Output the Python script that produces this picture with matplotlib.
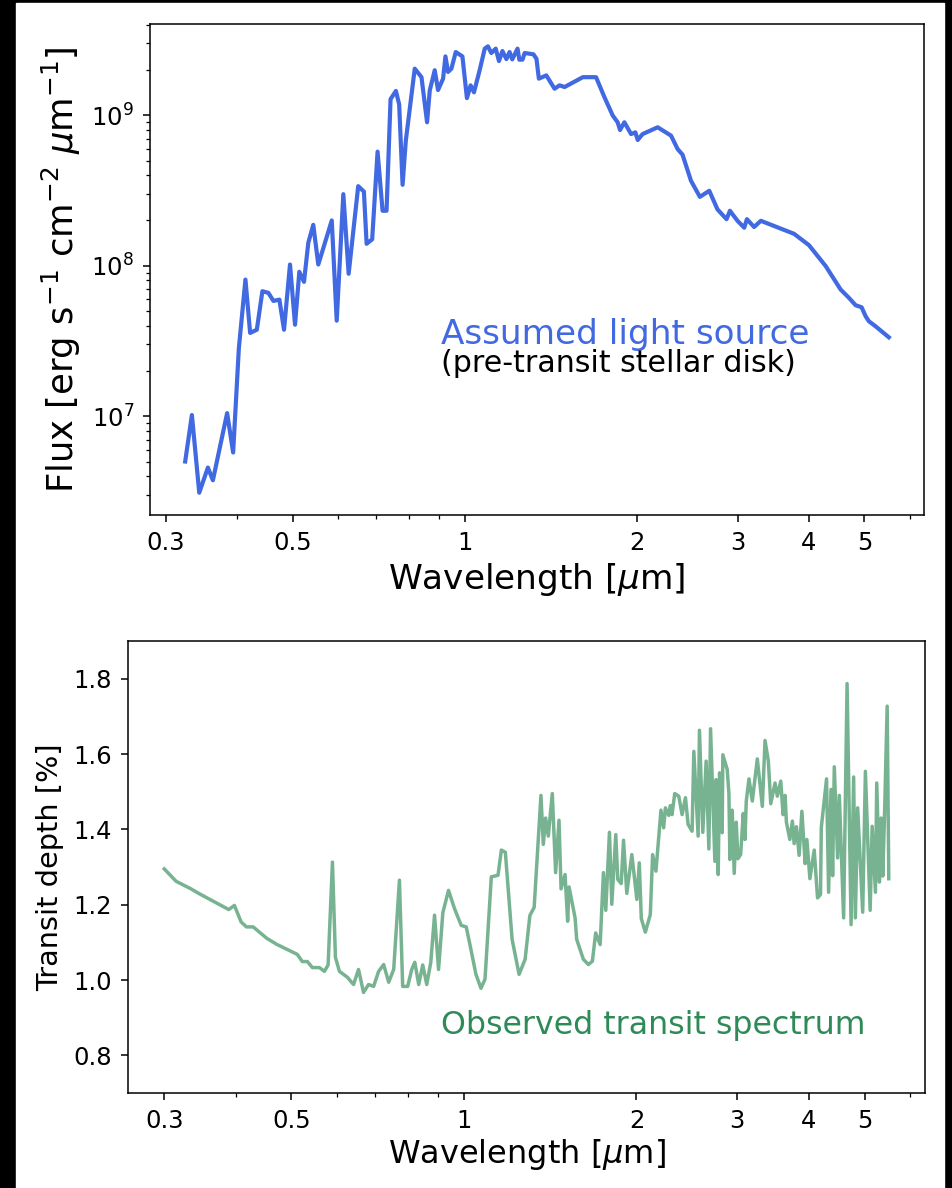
import matplotlib
matplotlib.use("Agg")
import matplotlib.pyplot as plt
from matplotlib.patches import Rectangle
from matplotlib.ticker import NullFormatter

# stellar spectrum (pre-transit disk)
star_wl = [0.3245, 0.3334, 0.3434, 0.3556, 0.3628, 0.3842, 0.3936, 0.4028, 0.4136, 0.4215,
           0.4330, 0.4428, 0.4536, 0.4629, 0.4742, 0.4831, 0.4949, 0.5050, 0.5138, 0.5236,
           0.5327, 0.5435, 0.5546, 0.5855, 0.5973, 0.6134, 0.6267, 0.6513, 0.6664, 0.6737,
           0.6890, 0.7041, 0.7184, 0.7300, 0.7419, 0.7580, 0.7681, 0.7787, 0.7889, 0.8178,
           0.8403, 0.8594, 0.8687, 0.8863, 0.8982, 0.9166, 0.9254, 0.9351, 0.9480, 0.9645,
           0.9908, 1.009, 1.024, 1.038, 1.062, 1.084, 1.098, 1.113, 1.133, 1.148,
           1.164, 1.183, 1.198, 1.211, 1.237, 1.246, 1.262, 1.273, 1.319, 1.335,
           1.348, 1.389, 1.436, 1.465, 1.495, 1.609, 1.697, 1.755, 1.815, 1.851,
           1.869, 1.902, 1.954, 1.988, 2.007, 2.047, 2.175, 2.295, 2.357, 2.404,
           2.487, 2.578, 2.677, 2.767, 2.870, 2.909, 2.999, 3.082, 3.115, 3.207,
           3.295, 3.767, 4.000, 4.278, 4.544, 4.698, 4.826, 4.944, 5.024, 5.091,
           5.230, 5.516]
star_flux = [5.01e6, 1.02e7, 3.11e6, 4.57e6, 3.76e6, 1.05e7, 5.75e6, 2.84e7, 8.10e7, 3.58e7,
             3.76e7, 6.78e7, 6.61e7, 5.84e7, 5.96e7, 3.76e7, 1.02e8, 4.06e7, 9.12e7, 7.82e7,
             1.42e8, 1.87e8, 1.02e8, 2.00e8, 4.32e7, 2.99e8, 8.85e7, 3.38e8, 3.11e8, 1.40e8,
             1.50e8, 5.73e8, 2.32e8, 2.32e8, 1.28e9, 1.45e9, 1.18e9, 3.45e8, 6.78e8, 2.04e9,
             1.79e9, 8.98e8, 1.46e9, 1.99e9, 1.47e9, 1.75e9, 2.46e9, 1.94e9, 2.04e9, 2.63e9,
             2.46e9, 1.30e9, 1.58e9, 1.42e9, 1.99e9, 2.77e9, 2.87e9, 2.59e9, 2.77e9, 2.29e9,
             2.67e9, 2.36e9, 2.63e9, 2.35e9, 2.77e9, 2.34e9, 2.34e9, 2.59e9, 2.54e9, 2.37e9,
             1.75e9, 1.84e9, 1.50e9, 1.58e9, 1.54e9, 1.79e9, 1.79e9, 1.32e9, 9.95e8, 8.98e8,
             7.98e8, 8.98e8, 7.50e8, 7.70e8, 6.85e8, 7.50e8, 8.32e8, 7.32e8, 5.96e8, 5.47e8,
             3.67e8, 2.87e8, 3.15e8, 2.37e8, 2.04e8, 2.32e8, 1.99e8, 1.79e8, 2.04e8, 1.81e8,
             1.99e8, 1.63e8, 1.37e8, 9.95e7, 6.95e7, 6.12e7, 5.47e7, 5.30e7, 4.62e7, 4.28e7,
             3.96e7, 3.35e7]

# transit spectrum
tr_wl = [0.300, 0.3147, 0.3340, 0.3445, 0.3888, 0.3977, 0.4086, 0.4174, 0.4288, 0.4536,
         0.4724, 0.4918, 0.5120, 0.5224, 0.5331, 0.5440, 0.5596, 0.5710, 0.5795, 0.5897,
         0.5968, 0.6065, 0.6264, 0.6418, 0.6548, 0.6681, 0.6817, 0.6957, 0.7099, 0.7244,
         0.7392, 0.7542, 0.7718, 0.7819, 0.7978, 0.8109, 0.8209, 0.8340, 0.8475, 0.8613,
         0.8754, 0.8887, 0.9031, 0.9189, 0.9401, 0.9632, 0.9892, 1.0093, 1.0245, 1.0496,
         1.0709, 1.0884, 1.1164, 1.1468, 1.1624, 1.1812, 1.2136, 1.2482, 1.2788, 1.3034,
         1.3261, 1.3628, 1.3756, 1.3884, 1.4035, 1.4263, 1.4455, 1.4653, 1.4774, 1.5014,
         1.5171, 1.5258, 1.5631, 1.5731, 1.6159, 1.6488, 1.6756, 1.6980, 1.7287, 1.7516,
         1.7681, 1.7945, 1.8113, 1.8407, 1.8556, 1.8811, 1.8989, 1.9240, 1.9634, 2.0032,
         2.0230, 2.0394, 2.0727, 2.1147, 2.1343, 2.1629, 2.2072, 2.2312, 2.2467, 2.2769,
         2.2922, 2.3072, 2.3327, 2.3706, 2.4025, 2.4354, 2.4613, 2.5012, 2.5186, 2.5625,
         2.5763, 2.6110, 2.6463, 2.6752, 2.6937, 2.7407, 2.7552, 2.7776, 2.7932, 2.8222,
         2.8301, 2.8800, 2.8997, 2.9115, 2.9385, 2.9622, 2.9862, 3.0066, 3.0396, 3.0718,
         3.0930, 3.1093, 3.1433, 3.1856, 3.2503, 3.3164, 3.3526, 3.3977, 3.4307, 3.4903,
         3.5229, 3.5715, 3.6048, 3.6339, 3.6531, 3.7039, 3.7425, 3.7685, 3.8036, 3.8450,
         3.8875, 3.9390, 3.9665, 4.0150, 4.0853, 4.1402, 4.1901, 4.2026, 4.2926, 4.3283,
         4.3704, 4.3987, 4.4282, 4.4877, 4.5187, 4.5976, 4.6615, 4.7373, 4.7863, 4.8195,
         4.8641, 4.9637, 5.0177, 5.1146, 5.1560, 5.2240, 5.2518, 5.3088, 5.3456, 5.3802,
         5.4175, 5.4764, 5.5118]
tr_depth = [1.295, 1.262, 1.242, 1.230, 1.187, 1.198, 1.154, 1.141, 1.141, 1.110,
            1.094, 1.081, 1.068, 1.049, 1.049, 1.033, 1.033, 1.023, 1.040, 1.313,
            1.060, 1.023, 1.007, 0.988, 1.028, 0.967, 0.988, 0.983, 1.023, 1.041,
            0.994, 1.028, 1.265, 0.983, 0.983, 1.028, 1.047, 0.988, 1.040, 0.988,
            1.047, 1.172, 1.028, 1.179, 1.238, 1.189, 1.145, 1.141, 1.094, 1.015,
            0.978, 1.002, 1.274, 1.278, 1.345, 1.339, 1.108, 1.015, 1.055, 1.171,
            1.193, 1.490, 1.360, 1.430, 1.382, 1.495, 1.285, 1.424, 1.242, 1.280,
            1.156, 1.247, 1.165, 1.108, 1.055, 1.041, 1.050, 1.125, 1.094, 1.285,
            1.185, 1.392, 1.201, 1.386, 1.267, 1.256, 1.371, 1.230, 1.333, 1.214,
            1.311, 1.163, 1.127, 1.174, 1.333, 1.289, 1.451, 1.404, 1.457, 1.437,
            1.463, 1.439, 1.495, 1.488, 1.439, 1.484, 1.413, 1.395, 1.607, 1.382,
            1.663, 1.392, 1.581, 1.348, 1.667, 1.315, 1.532, 1.280, 1.550, 1.391,
            1.598, 1.559, 1.495, 1.320, 1.451, 1.283, 1.419, 1.322, 1.333, 1.442,
            1.373, 1.475, 1.534, 1.475, 1.587, 1.461, 1.636, 1.581, 1.468, 1.523,
            1.488, 1.528, 1.439, 1.490, 1.419, 1.373, 1.422, 1.362, 1.407, 1.331,
            1.448, 1.309, 1.373, 1.269, 1.345, 1.218, 1.227, 1.404, 1.534, 1.233,
            1.506, 1.277, 1.566, 1.324, 1.490, 1.165, 1.787, 1.147, 1.539, 1.165,
            1.457, 1.180, 1.554, 1.185, 1.408, 1.233, 1.523, 1.260, 1.430, 1.276,
            1.433, 1.727, 1.269]

xticks = [0.3, 0.5, 1, 2, 3, 4, 5]
xticklabels = ["0.3", "0.5", "1", "2", "3", "4", "5"]

W, H = 953, 1188
fig = plt.figure(figsize=(W / 100, H / 100), dpi=100, facecolor="black")
fig.patches.append(Rectangle((16 / W, 0), (944 - 16) / W, (H - 3) / H,
                             transform=fig.transFigure, color="white", zorder=-10))


def style_axes(ax):
    for s in ax.spines.values():
        s.set_linewidth(1.1)
    ax.tick_params(which="major", length=5, width=1.1, pad=6.5, labelsize=17.5)
    ax.tick_params(which="minor", length=2.8, width=0.9)


# top panel
ax1 = fig.add_axes([150 / W, (H - 515) / H, (924 - 150) / W, (515 - 24) / H])
ax1.plot(star_wl, star_flux, color="royalblue", lw=3.0)
ax1.set_xscale("log")
ax1.set_yscale("log")
ax1.set_xticks(xticks)
ax1.set_xticklabels(xticklabels)
ax1.xaxis.set_minor_formatter(NullFormatter())
style_axes(ax1)
ax1.set_xlabel(r"Wavelength [$\mu$m]", fontsize=24.7, labelpad=4)
ax1.set_ylabel(r"Flux [erg s$^{-1}$ cm$^{-2}$ $\mu$m$^{-1}$]", fontsize=25.5, labelpad=6)
ax1.text(0.376, 0.348, "Assumed light source", color="royalblue", fontsize=24.7,
         transform=ax1.transAxes, va="baseline")
ax1.text(0.376, 0.291, "(pre-transit stellar disk)", color="black", fontsize=21.6,
         transform=ax1.transAxes, va="baseline")

# bottom panel
ax2 = fig.add_axes([128 / W, (H - 1093) / H, (925 - 128) / W, (1093 - 641) / H])
ax2.plot(tr_wl, tr_depth, color="seagreen", alpha=0.65, lw=2.5)
ax2.set_xscale("log")
ax2.set_xticks(xticks)
ax2.set_xticklabels(xticklabels)
ax2.xaxis.set_minor_formatter(NullFormatter())
ax2.set_ylim(0.7, 1.9)
ax2.set_yticks([0.8, 1.0, 1.2, 1.4, 1.6, 1.8])
style_axes(ax2)
ax2.set_xlabel(r"Wavelength [$\mu$m]", fontsize=23, labelpad=3)
ax2.set_ylabel("Transit depth [%]", fontsize=20.7, labelpad=7)
ax2.text(0.393, 0.1305, "Observed transit spectrum", color="seagreen", fontsize=22.8,
         transform=ax2.transAxes, va="baseline")

fig.savefig("out.png", dpi=100)
